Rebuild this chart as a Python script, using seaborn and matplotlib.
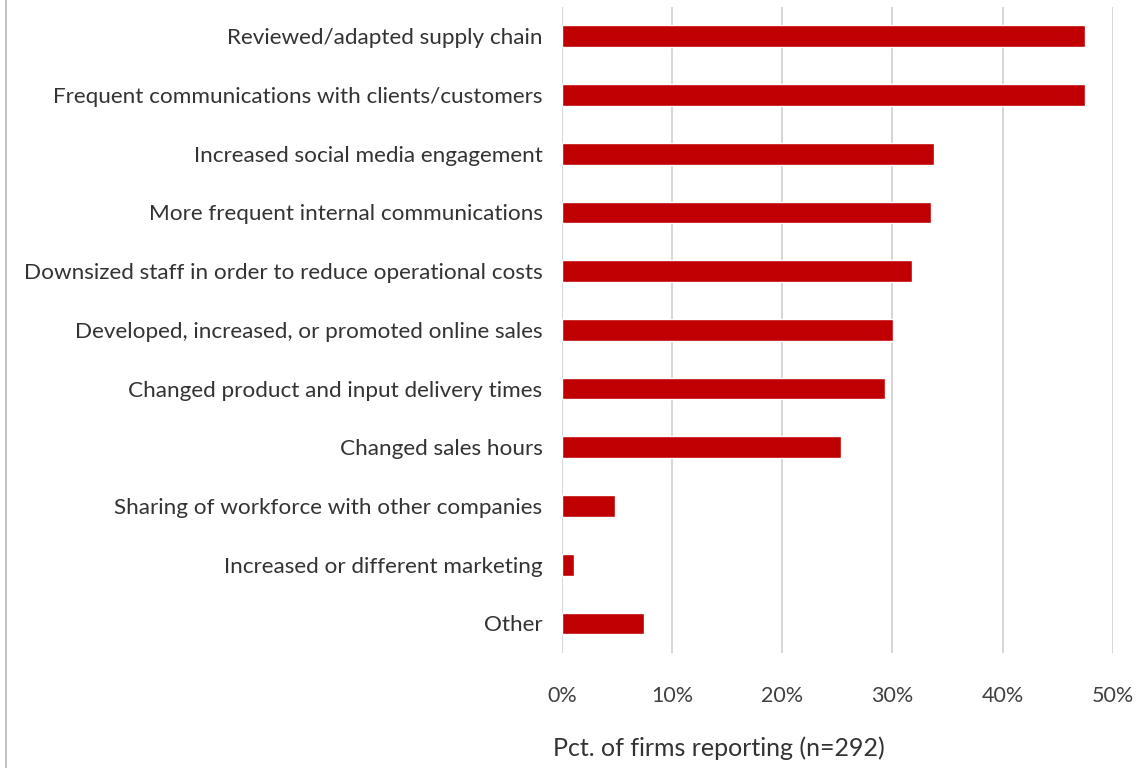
import matplotlib
matplotlib.use("Agg")
import matplotlib.pyplot as plt
from matplotlib.lines import Line2D
import seaborn as sns
import pandas as pd

categories = [
    "Reviewed/adapted supply chain",
    "Frequent communications with clients/customers",
    "Increased social media engagement",
    "More frequent internal communications",
    "Downsized staff in order to reduce operational costs",
    "Developed, increased, or promoted online sales",
    "Changed product and input delivery times",
    "Changed sales hours",
    "Sharing of workforce with other companies",
    "Increased or different marketing",
    "Other",
]
percent_reporting = [47.5, 47.5, 33.8, 33.5, 31.8, 30.1, 29.3, 25.3, 4.8, 1.1, 7.4]
tick_values = [0, 10, 20, 30, 40, 50]
tick_labels = ["0%", "10%", "20%", "30%", "40%", "50%"]
x_label = "Pct. of firms reporting (n=292)"

df = pd.DataFrame({"category": categories, "pct": percent_reporting})

sns.set_theme(style="white")
plt.rcParams["font.family"] = ["Lato", "DejaVu Sans"]

fig = plt.figure(figsize=(11.4, 7.68), dpi=100)
ax = fig.add_axes([0.493, 0.150, 0.483, 0.841])

sns.barplot(data=df, x="pct", y="category", color="#C00000", width=0.37,
            saturation=1, ax=ax, zorder=3)

ax.set_xlim(0, 50)
ax.set_ylim(len(categories) - 0.5, -0.5)
ax.set_xticks(tick_values)
ax.set_xticklabels(tick_labels, fontsize=15.5, color="#404040")
ax.tick_params(axis="x", length=0, pad=24)
ax.tick_params(axis="y", length=0, pad=14, labelsize=16.2, labelcolor="#333333")

ax.grid(axis="x", color="#d6d6d6", linewidth=1.4, zorder=0)
ax.set_axisbelow(True)
for s in ax.spines.values():
    s.set_visible(False)

ax.set_ylabel("")
ax.set_xlabel(x_label, fontsize=18, color="#333333")
ax.xaxis.label.set_horizontalalignment("left")
ax.xaxis.label.set_verticalalignment("center")
ax.xaxis.set_label_coords(-0.016, -0.147)

# thin frame line along the left edge
fig.add_artist(Line2D([0.005, 0.005], [0, 1], transform=fig.transFigure,
                      color="#b5b5b5", linewidth=1.2))

fig.savefig("out.png", dpi=100, facecolor="white")
